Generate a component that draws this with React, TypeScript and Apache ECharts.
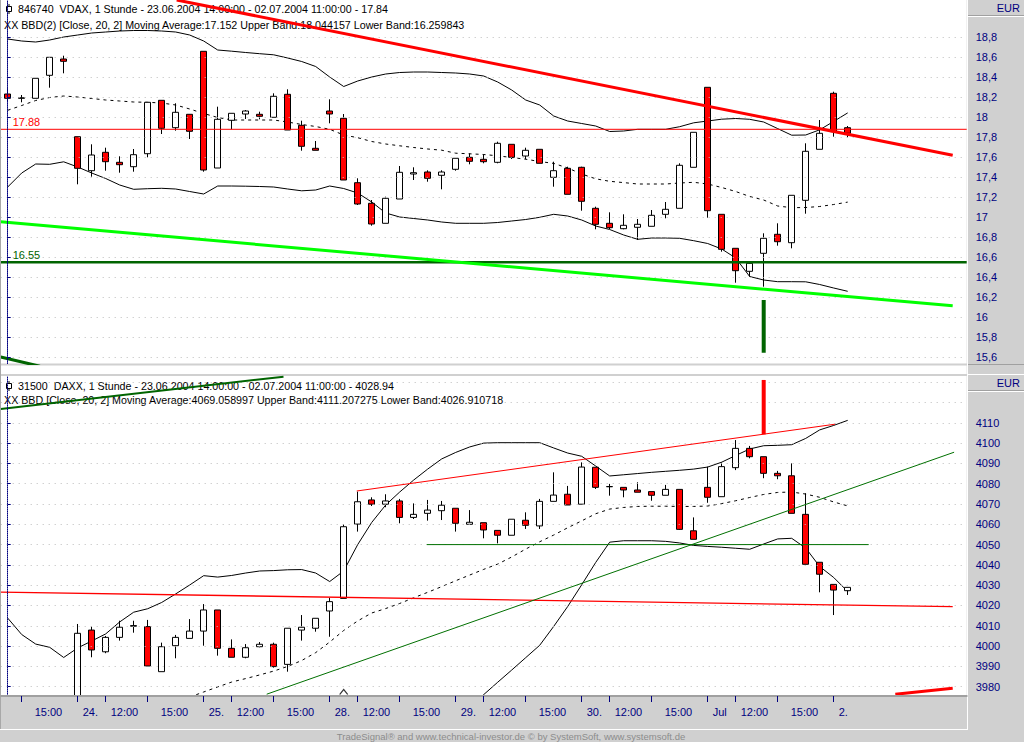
import React, { useEffect, useRef } from 'react';
import * as echarts from 'echarts';

const FONT = 'Liberation Sans, Arial, sans-serif';
const NAVY = '#000080';
const GRAY = '#d0d0d0';

// ---------- time axis ----------
const sessionDays = ['23.06', '24.06', '25.06', '28.06', '29.06', '30.06', '01.07', '02.07'];
const sessionHours = [
  [14, 15, 16, 17, 18],
  [10, 11, 12, 13, 14, 15, 16, 17, 18],
  [10, 11, 12, 13, 14, 15, 16, 17, 18],
  [10, 11, 12, 13, 14, 15, 16, 17, 18],
  [10, 11, 12, 13, 14, 15, 16, 17, 18],
  [10, 11, 12, 13, 14, 15, 16, 17, 18],
  [10, 11, 12, 13, 14, 15, 16, 17, 18],
  [10, 11],
];
const futureSlots = 8;
const categories: string[] = [];
sessionDays.forEach((d, k) => sessionHours[k].forEach((h) => categories.push(`${d} ${h}:00`)));
for (let i = 0; i < futureSlots; i++) categories.push('');

const xTickIndex = [1, 5, 7, 10, 14, 16, 19, 23, 25, 28, 32, 34, 37, 41, 43, 46, 50, 52, 55, 59];
const xTickText = ['15:00', '24.', '12:00', '15:00', '25.', '12:00', '15:00', '28.', '12:00', '15:00', '29.', '12:00', '15:00', '30.', '12:00', '15:00', 'Jul', '12:00', '15:00', '2.'];

// ---------- VDAX (top) : [open, close, low, high] ----------
const topOHLC = [
  [18.233, 18.19, 18.156, 18.29], [18.19, 18.195, 18.15, 18.223], [18.19, 18.39, 18.19, 18.39], [18.42, 18.6, 18.296, 18.6],
  [18.583, 18.56, 18.44, 18.616], [17.806, 17.49, 17.33, 17.806], [17.466, 17.623, 17.406, 17.73], [17.65, 17.556, 17.466, 17.696],
  [17.55, 17.526, 17.446, 17.61], [17.506, 17.626, 17.456, 17.683], [17.636, 18.15, 17.6, 18.15], [18.17, 17.89, 17.833, 18.17],
  [17.896, 18.05, 17.866, 18.14], [18.03, 17.86, 17.783, 18.03], [18.66, 17.473, 17.456, 18.66], [17.493, 17.98, 17.493, 18.106],
  [17.97, 18.04, 17.88, 18.04], [18.033, 18.063, 17.983, 18.073], [18.03, 18.01, 17.98, 18.056], [18.0, 18.21, 18.0, 18.24],
  [18.23, 17.873, 17.873, 18.28], [17.92, 17.71, 17.666, 17.966], [17.69, 17.67, 17.67, 17.763], [18.063, 18.033, 17.94, 18.18],
  [17.99, 17.373, 17.373, 18.033], [17.346, 17.133, 17.123, 17.39], [17.14, 16.933, 16.916, 17.173], [16.94, 17.19, 16.94, 17.206],
  [17.183, 17.45, 17.183, 17.513], [17.433, 17.446, 17.373, 17.5], [17.453, 17.39, 17.356, 17.47], [17.42, 17.453, 17.28, 17.47],
  [17.48, 17.59, 17.466, 17.59], [17.6, 17.56, 17.53, 17.64], [17.58, 17.556, 17.54, 17.63], [17.55, 17.74, 17.54, 17.756],
  [17.73, 17.6, 17.583, 17.73], [17.613, 17.67, 17.58, 17.696], [17.68, 17.54, 17.54, 17.68], [17.4, 17.466, 17.306, 17.556],
  [17.49, 17.23, 17.23, 17.506], [17.5, 17.16, 17.066, 17.506], [17.09, 16.93, 16.88, 17.106], [16.94, 16.896, 16.883, 17.05],
  [16.886, 16.92, 16.88, 17.03], [16.9, 16.93, 16.773, 16.983], [16.91, 17.02, 16.91, 17.073], [17.03, 17.08, 16.99, 17.153],
  [17.09, 17.52, 17.09, 17.54], [17.5, 17.85, 17.5, 17.85], [18.3, 17.066, 16.996, 18.3], [17.03, 16.68, 16.656, 17.03],
  [16.69, 16.466, 16.346, 16.69], [16.46, 16.54, 16.406, 16.56], [16.64, 16.79, 16.306, 16.84], [16.83, 16.756, 16.716, 16.94],
  [16.746, 17.22, 16.69, 17.22], [17.17, 17.66, 17.036, 17.74], [17.68, 17.84, 17.68, 17.973], [18.24, 17.856, 17.806, 18.256],
  [17.896, 17.84, 17.8, 17.913],
];
const topUpper = [
  18.783, 18.763, 18.753, 18.773, 18.803, 18.823, 18.843, 18.853, 18.863, 18.868, 18.868, 18.863, 18.853, 18.823, 18.763, 18.673,
  18.661, 18.648, 18.636, 18.625, 18.593, 18.558, 18.508, 18.403, 18.308, 18.363, 18.403, 18.433, 18.448, 18.453, 18.453, 18.448,
  18.443, 18.433, 18.413, 18.353, 18.273, 18.173, 18.123, 18.013, 17.963, 17.938, 17.913, 17.858, 17.863, 17.88, 17.88, 17.88,
  17.906, 17.945, 17.963, 17.981, 17.988, 17.98, 17.953, 17.887, 17.821, 17.823, 17.875, 17.959, 18.044,
];
const topMA = [
  18.07, 18.118, 18.168, 18.198, 18.213, 18.203, 18.188, 18.173, 18.163, 18.153, 18.15, 18.143, 18.123, 18.083, 18.038, 17.998,
  17.973, 17.973, 17.973, 17.973, 17.953, 17.928, 17.908, 17.88, 17.823, 17.796, 17.758, 17.733, 17.715, 17.698, 17.683, 17.671,
  17.641, 17.635, 17.628, 17.615, 17.598, 17.581, 17.558, 17.539, 17.493, 17.433, 17.385, 17.36, 17.347, 17.333, 17.333, 17.333,
  17.343, 17.35, 17.333, 17.298, 17.258, 17.208, 17.173, 17.113, 17.096, 17.098, 17.108, 17.128, 17.152,
];
const topLower = [
  17.303, 17.443, 17.533, 17.53, 17.555, 17.503, 17.443, 17.388, 17.323, 17.28, 17.286, 17.29, 17.283, 17.258, 17.233, 17.313,
  17.313, 17.311, 17.308, 17.303, 17.283, 17.265, 17.273, 17.313, 17.288, 17.243, 17.153, 17.043, 17.003, 16.988, 16.973, 16.953,
  16.94, 16.94, 16.94, 16.948, 16.963, 16.978, 17.0, 17.03, 17.013, 16.973, 16.913, 16.878, 16.823, 16.78, 16.793, 16.793,
  16.79, 16.766, 16.738, 16.683, 16.593, 16.408, 16.373, 16.356, 16.356, 16.355, 16.328, 16.293, 16.26,
];
const topTicks = [15.6, 15.8, 16.0, 16.2, 16.4, 16.6, 16.8, 17.0, 17.2, 17.4, 17.6, 17.8, 18.0, 18.2, 18.4, 18.6, 18.8];
const topRedLevel = 17.88;
const topGreenLevel = 16.55;
const topRedTrend = [[12.07, 19.173], [67.5, 17.62]];
const topLimeTrend = [[-0.5, 16.955], [67.5, 16.115]];
const topGreenStub = [[-0.5, 15.603], [2.3, 15.51]];
const topSignal = [[54, 16.173], [54, 15.646]];

// ---------- DAXX (bottom) : [open, close, low, high] ----------
const botOHLC = [
  [3962, 3958, 3955, 3966], [3958, 3955, 3950, 3961], [3955, 3960, 3952, 3963], [3960, 3957, 3953, 3962],
  [3957, 3962, 3955, 3965], [3962, 4006.3, 3960, 4010.9], [4007.9, 3998.1, 3994.5, 4009.6], [3997.2, 4004.3, 3996.5, 4005],
  [4004.3, 4009.3, 4002.7, 4012.5], [4009.8, 4010.1, 4006.6, 4012.5], [4009.6, 3990.2, 3990.2, 4012.9], [3987.4, 3999.7, 3987.4, 4001.7],
  [4000.2, 4004.3, 3994.0, 4005.5], [4003.8, 4007.4, 4003.8, 4013.3], [4007.4, 4017.8, 4000.2, 4020.7], [4017.8, 3998.9, 3995.3, 4017.8],
  [3998.9, 3994.5, 3994.5, 4003.3], [3994.5, 3999.2, 3994.0, 4001.0], [3999.7, 4000.9, 3999.4, 4002.0], [4000.9, 3989.9, 3989.4, 4001.7],
  [3991.0, 4008.8, 3987.4, 4008.8], [4007.9, 4009.3, 4002.7, 4015.3], [4008.8, 4013.7, 4007.1, 4013.7], [4017.3, 4021.9, 4004.6, 4023.8],
  [4023.5, 4058.8, 4023.5, 4060.0], [4060.1, 4071.1, 4056.4, 4076.1], [4072.0, 4069.9, 4069.0, 4073.3], [4069.9, 4071.5, 4068.4, 4074.8],
  [4071.5, 4063.4, 4060.5, 4072.5], [4063.4, 4064.9, 4062.6, 4070.3], [4065.4, 4067.0, 4061.8, 4072.0], [4066.7, 4069.4, 4062.1, 4071.5],
  [4067.9, 4060.5, 4056.4, 4067.9], [4060.0, 4061.0, 4060.0, 4067.0], [4060.8, 4057.2, 4053.1, 4060.8], [4057.0, 4054.6, 4050.6, 4057.0],
  [4054.6, 4062.5, 4054.6, 4062.5], [4062.0, 4059.5, 4057.7, 4065.9], [4059.2, 4071.3, 4057.7, 4072.5], [4071.3, 4074.4, 4071.3, 4085.6],
  [4074.8, 4069.5, 4069.5, 4078.9], [4069.9, 4088.2, 4069.9, 4090.5], [4088.1, 4078.2, 4077.4, 4088.1], [4078.5, 4078.6, 4074.1, 4079.9],
  [4078.2, 4076.9, 4073.3, 4078.2], [4076.9, 4075.8, 4075.8, 4080.7], [4076.1, 4074.3, 4071.6, 4076.1], [4074.3, 4077.2, 4074.3, 4079.4],
  [4077.2, 4057.5, 4057.2, 4077.2], [4056.8, 4052.6, 4052.6, 4063.4], [4078.2, 4073.3, 4070.6, 4088.4], [4073.6, 4088.4, 4073.6, 4090.5],
  [4087.9, 4097.4, 4086.7, 4101.5], [4097.4, 4093.3, 4092.5, 4098.6], [4093.3, 4085.1, 4082.7, 4093.3], [4085.1, 4083.9, 4082.2, 4086.3],
  [4083.9, 4065.4, 4065.4, 4090.0], [4064.9, 4040.3, 4040.3, 4075.3], [4041.3, 4035.4, 4026.5, 4041.3], [4030.4, 4027.6, 4015.3, 4030.4],
  [4027.3, 4028.94, 4025.2, 4029.0],
];
const botUpper = [
  4013.8, 4005.7, 4001.0, 3999.4, 3994.4, 3999.1, 4002.5, 4006.0, 4011.9, 4016.7, 4018.4, 4021.5, 4025.7, 4030.1, 4034.7, 4034.0,
  4034.8, 4036.0, 4037.0, 4037.2, 4037.6, 4037.7, 4036.0, 4031.8, 4037.0, 4050.0, 4060.9, 4069.5, 4075.9, 4081.8, 4087.2, 4092.2,
  4095.4, 4098.1, 4100.0, 4100.2, 4100.2, 4100.2, 4100.2, 4097.6, 4095.1, 4093.5, 4088.7, 4083.8, 4084.4, 4085.0, 4085.6, 4086.1,
  4086.6, 4087.2, 4088.2, 4090.6, 4093.9, 4097.1, 4098.7, 4098.9, 4099.2, 4102.3, 4106.5, 4108.7, 4111.2,
];
const botMA = [
  null, null, null, null, null, null, null, null, null, null, null, null, null, 3974.9, 3977.4, 3979.9,
  3982.3, 3984.0, 3985.8, 3987.7, 3990.0, 3992.9, 3996.8, 4002.0, 4007.7, 4012.4, 4016.3, 4018.5, 4021.0, 4023.8, 4026.5, 4029.3,
  4032.2, 4035.0, 4037.8, 4040.4, 4043.9, 4047.8, 4051.4, 4054.7, 4058.3, 4061.7, 4065.2, 4067.5, 4068.3, 4068.8, 4068.9, 4068.9,
  4068.8, 4068.8, 4069.0, 4070.2, 4071.6, 4073.2, 4074.7, 4075.7, 4075.9, 4074.9, 4073.3, 4071.0, 4069.06,
];
const botLower = [
  null, null, null, null, null, null, null, null, null, null, null, null, null, null, null, null,
  null, null, null, null, null, null, null, null, null, null, null, null, null, null, null, null,
  null, 3970.0, 3976.1, 3982.2, 3988.2, 3994.3, 4000.4, 4009.7, 4019.5, 4030.2, 4041.2, 4051.2, 4051.9, 4051.9, 4051.9, 4051.6,
  4050.8, 4049.6, 4049.1, 4048.7, 4048.2, 4047.7, 4050.3, 4052.8, 4053.1, 4048.3, 4039.2, 4033.8, 4026.9,
];
const botLabelTicks = [3980, 3990, 4000, 4010, 4020, 4030, 4040, 4050, 4060, 4070, 4080, 4090, 4100, 4110];
const botGridTicks = [3980, 3990, 4000, 4010, 4020, 4030, 4040, 4050, 4060, 4070, 4080, 4090, 4100, 4110, 4120, 4130];
const botRedRise = [[24.93, 4076.4], [59.09, 4109.3]];
const botRedFlat = [[-0.5, 4026.6], [67.5, 4019.4]];
const botGreenRise = [[18.5, 3976.3], [67.6, 4095.5]];
const botGreenFlat = [[29.93, 4050], [61.5, 4050]];
const botGreenStub = [[-0.5, 4116.8], [19.7, 4132.7]];
const botRedStub = [[63.4, 3976.3], [67.5, 3979.2]];
const botSignal = [[54, 4104.3], [54, 4131.1]];
const botCaret = [[24, 3977.4]];

const topTitle = '846740  VDAX, 1 Stunde - 23.06.2004 14:00:00 - 02.07.2004 11:00:00 - 17.84';
const topStudy = 'XX BBD(2) [Close, 20, 2] Moving Average:17.152 Upper Band:18.044157 Lower Band:16.259843';
const botTitle = '31500  DAXX, 1 Stunde - 23.06.2004 14:00:00 - 02.07.2004 11:00:00 - 4028.94';
const botStudy = 'XX BBD [Close, 20, 2] Moving Average:4069.058997 Upper Band:4111.207275 Lower Band:4026.910718';
const footer = 'TradeSignal\u00ae and www.technical-investor.de \u00a9 by SystemSoft, www.systemsoft.de';

function trend(data: number[][], xi: number, yi: number, color: string, width: number, extra: any = {}) {
  return {
    type: 'line', xAxisIndex: xi, yAxisIndex: yi, data, symbol: 'none', silent: true, z: 5,
    color, lineStyle: { color, width }, ...extra,
  };
}

function band(data: (number | null)[], xi: number, yi: number, dashed: boolean, extra: any = {}) {
  return {
    type: 'line', xAxisIndex: xi, yAxisIndex: yi, data, symbol: 'none', silent: true, z: 2,
    color: '#000000', lineStyle: { color: '#000000', width: 1, type: dashed ? [3, 4] : 'solid' }, ...extra,
  };
}

function level(value: number, color: string, width: number) {
  return {
    type: 'line', xAxisIndex: 1, yAxisIndex: 0, data: [[-0.5, value], [68.5, value]], symbol: 'none', silent: true, z: 5,
    color, lineStyle: { color, width },
    markLine: {
      silent: true, symbol: ['none', 'none'],
      lineStyle: { color: 'rgba(0,0,0,0)', width: 0 },
      label: {
        show: true, position: 'insideStartTop', distance: 2, padding: [0, 0, 0, 10], fontSize: 11, fontFamily: FONT, color,
        formatter: String(value),
      },
      data: [{ yAxis: value }],
    },
  };
}

const candleStyle = {
  color: '#ffffff', color0: '#ff0000', borderColor: '#000000', borderColor0: '#000000', borderColorDoji: '#000000', borderWidth: 1,
};

const dotLine = { color: '#bcbcbc', width: 1, type: [1, 5] };

function icon(y: number) {
  return [
    { type: 'rect', z: 1, shape: { x: 6.5, y: y - 2.5, width: 5, height: 5 }, style: { fill: 'none', stroke: '#000', lineWidth: 1 } },
    { type: 'line', z: 1, shape: { x1: 9, y1: y - 5, x2: 9, y2: y - 2.5 }, style: { stroke: '#000', lineWidth: 1 } },
    { type: 'line', z: 1, shape: { x1: 9, y1: y + 2.5, x2: 9, y2: y + 5 }, style: { stroke: '#000', lineWidth: 1 } },
  ];
}

function headerText(text: string, x: number, y: number) {
  return { type: 'text', z: 1, style: { text, x, y, fill: '#000000', font: `10.7px ${FONT}`, verticalAlign: 'middle' } };
}

export default function App() {
  const ref = useRef<HTMLDivElement>(null);
  useEffect(() => {
    if (!ref.current) return;
    const chart = echarts.init(ref.current, null, { renderer: 'svg' });
    const tickSet = new Set(xTickIndex);
    const option: any = {
      animation: false,
      backgroundColor: '#ffffff',
      grid: [
        { left: 0.7, top: 1, width: 966, height: 362.6 },
        { left: 0.7, top: 376, width: 966, height: 320 },
      ],
      xAxis: [
        { type: 'category', gridIndex: 0, data: categories, show: false },
        { type: 'value', gridIndex: 0, min: -0.5, max: 68.5, show: false },
        {
          type: 'category', gridIndex: 1, data: categories, z: 10,
          axisLine: { show: true, lineStyle: { color: '#a0a0a0', width: 2 } },
          axisTick: { show: true, alignWithLabel: true, length: 6, interval: (i: number) => tickSet.has(i), lineStyle: { color: NAVY } },
          axisLabel: {
            interval: (i: number) => tickSet.has(i), align: 'left', margin: 10, color: NAVY, fontSize: 11, fontFamily: FONT,
            formatter: (_v: string, i: number) => {
              const t = xTickText[xTickIndex.indexOf(i)] || '';
              return t === '15:00' ? `{b|${t}}` : `{a|${t}}`;
            },
            rich: {
              a: { color: NAVY, fontSize: 11, fontFamily: FONT, padding: [0, 0, 0, 5] },
              b: { color: NAVY, fontSize: 11, fontFamily: FONT, padding: [0, 0, 0, 13] },
            },
          },
          splitLine: { show: false },
        },
        { type: 'value', gridIndex: 1, min: -0.5, max: 68.5, show: false },
      ],
      yAxis: [
        {
          type: 'value', gridIndex: 0, position: 'right', offset: 3, min: 15.537, max: 19.163, z: 10,
          splitLine: { show: false },
          axisLine: { show: true, lineStyle: { color: NAVY, type: 'dotted', width: 1 } },
          axisTick: { show: true, length: 3, customValues: topTicks, lineStyle: { color: NAVY } },
          axisLabel: {
            customValues: topTicks, color: NAVY, fontSize: 11, fontFamily: FONT, margin: 6,
            formatter: (v: number) => String(Math.round(v * 10) / 10).replace('.', ','),
          },
        },
        {
          type: 'value', gridIndex: 1, position: 'right', offset: 3, min: 3975.42, max: 4133.05, z: 10,
          splitLine: { show: false },
          axisLine: { show: true, lineStyle: { color: NAVY, type: 'dotted', width: 1 } },
          axisTick: { show: true, length: 3, customValues: botLabelTicks, lineStyle: { color: NAVY } },
          axisLabel: { customValues: botLabelTicks, color: NAVY, fontSize: 11, fontFamily: FONT, margin: 6, formatter: (v: number) => String(v) },
        },
      ],
      series: [
        // ---- top panel ----
        band(topUpper, 0, 0, false, {
          markLine: { silent: true, symbol: ['none', 'none'], label: { show: false }, lineStyle: dotLine, data: topTicks.map((v) => ({ yAxis: v })) },
        }),
        band(topMA, 0, 0, true),
        band(topLower, 0, 0, false),
        { type: 'candlestick', xAxisIndex: 0, yAxisIndex: 0, data: topOHLC, barWidth: 7, itemStyle: candleStyle, z: 3, silent: true, clip: true },
        level(topRedLevel, '#ff0000', 1),
        level(topGreenLevel, '#006400', 2.5),
        trend(topRedTrend, 1, 0, '#ff0000', 3),
        trend(topLimeTrend, 1, 0, '#00ff00', 3),
        trend(topGreenStub, 1, 0, '#006400', 3),
        trend(topSignal, 1, 0, '#006400', 4),
        // ---- bottom panel ----
        band(botUpper, 2, 1, false, {
          markLine: { silent: true, symbol: ['none', 'none'], label: { show: false }, lineStyle: dotLine, data: botGridTicks.map((v) => ({ yAxis: v })) },
        }),
        band(botMA, 2, 1, true),
        band(botLower, 2, 1, false),
        { type: 'candlestick', xAxisIndex: 2, yAxisIndex: 1, data: botOHLC, barWidth: 7, itemStyle: candleStyle, z: 3, silent: true, clip: true },
        trend(botRedRise, 3, 1, '#ff0000', 1),
        trend(botRedFlat, 3, 1, '#ff0000', 1.3),
        trend(botGreenRise, 3, 1, '#007000', 1),
        trend(botGreenFlat, 3, 1, '#007000', 1),
        trend(botGreenStub, 3, 1, '#006400', 2),
        trend(botRedStub, 3, 1, '#ff0000', 3),
        trend(botSignal, 3, 1, '#ff0000', 4),
        {
          type: 'scatter', xAxisIndex: 3, yAxisIndex: 1, data: botCaret, symbol: 'path://M0,6L4,0L8,6', symbolSize: [8, 5], silent: true, z: 5,
          itemStyle: { color: 'rgba(0,0,0,0)', borderColor: '#000000', borderWidth: 1 },
        },
      ],
      graphic: [
        // frame / panels
        { type: 'rect', z: 5, shape: { x: 966.7, y: 0, width: 58, height: 742 }, style: { fill: GRAY } },
        { type: 'rect', z: 5, shape: { x: 0, y: 697, width: 967, height: 45 }, style: { fill: GRAY } },
        { type: 'rect', z: 5, shape: { x: 0, y: 363.6, width: 967, height: 2 }, style: { fill: GRAY } },
        { type: 'rect', z: 5, shape: { x: 0, y: 374, width: 967, height: 2 }, style: { fill: GRAY } },
        { type: 'line', z: 6, shape: { x1: 0.5, y1: 0, x2: 0.5, y2: 729 }, style: { stroke: '#a8a8a8', lineWidth: 1 } },
        { type: 'line', z: 6, shape: { x1: 967.5, y1: 0, x2: 967.5, y2: 729 }, style: { stroke: '#ffffff', lineWidth: 1 } },
        { type: 'line', z: 6, shape: { x1: 0, y1: 729.5, x2: 968, y2: 729.5 }, style: { stroke: '#ffffff', lineWidth: 1 } },
        // EUR boxes
        { type: 'rect', z: 15, shape: { x: 968, y: 0, width: 56, height: 15 }, style: { fill: GRAY } },
        { type: 'line', z: 15, shape: { x1: 968, y1: 15.5, x2: 1024, y2: 15.5 }, style: { stroke: '#a0a0a0', lineWidth: 1 } },
        { type: 'line', z: 15, shape: { x1: 968, y1: 16.5, x2: 1024, y2: 16.5 }, style: { stroke: '#ffffff', lineWidth: 1 } },
        { type: 'text', z: 16, style: { text: 'EUR', x: 1020, y: 8, align: 'right', verticalAlign: 'middle', fill: NAVY, font: `11px ${FONT}` } },
        { type: 'rect', z: 15, shape: { x: 968, y: 363.6, width: 56, height: 27 }, style: { fill: GRAY } },
        { type: 'line', z: 15, shape: { x1: 968, y1: 364.5, x2: 1024, y2: 364.5 }, style: { stroke: '#a0a0a0', lineWidth: 1 } },
        { type: 'line', z: 15, shape: { x1: 968, y1: 374.5, x2: 1024, y2: 374.5 }, style: { stroke: '#ffffff', lineWidth: 1 } },
        { type: 'line', z: 15, shape: { x1: 968, y1: 390.5, x2: 1024, y2: 390.5 }, style: { stroke: '#a0a0a0', lineWidth: 1 } },
        { type: 'line', z: 15, shape: { x1: 968, y1: 391.5, x2: 1024, y2: 391.5 }, style: { stroke: '#ffffff', lineWidth: 1 } },
        { type: 'text', z: 16, style: { text: 'EUR', x: 1020, y: 383, align: 'right', verticalAlign: 'middle', fill: NAVY, font: `11px ${FONT}` } },
        // headers
        ...icon(9),
        headerText(topTitle, 18, 9),
        headerText(topStudy, 4, 24.5),
        ...icon(386),
        headerText(botTitle, 18, 386),
        headerText(botStudy, 4, 399.5),
        // footer
        { type: 'text', z: 16, style: { text: footer, x: 511, y: 736, align: 'center', verticalAlign: 'middle', fill: '#8c8c8c', font: `9.5px ${FONT}` } },
      ],
    };
    chart.setOption(option);
    return () => chart.dispose();
  }, []);
  return (
    <div
      ref={ref}
      style={{ position: 'absolute', left: 0, top: 0, width: 1024, height: 742, background: '#ffffff' }}
    />
  );
}
